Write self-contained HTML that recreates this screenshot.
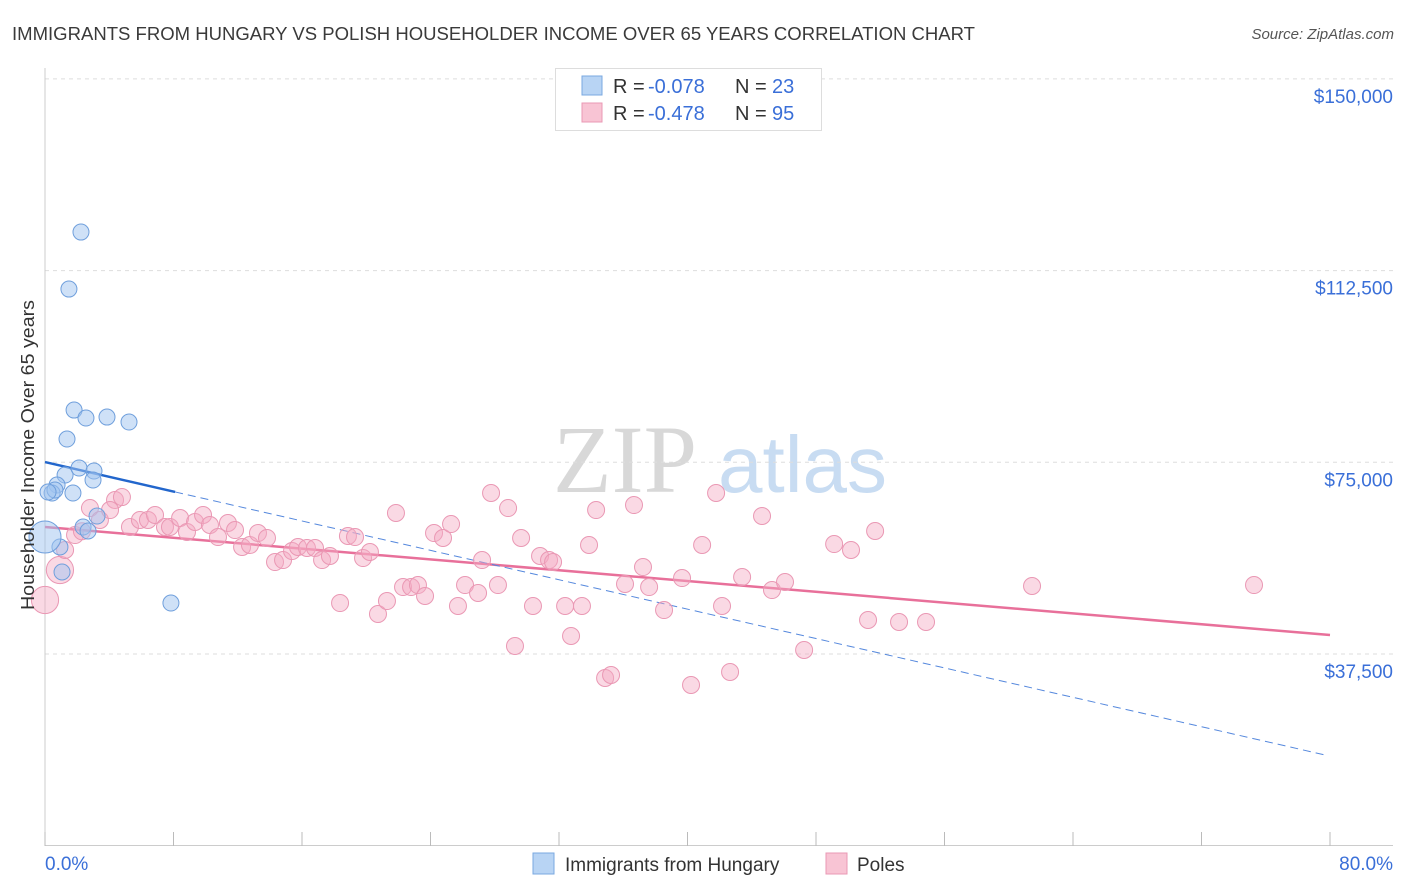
<!DOCTYPE html>
<html><head><meta charset="utf-8"><style>
body{margin:0;background:#fff;font-family:"Liberation Sans",sans-serif;}
svg{display:block}
</style></head><body>
<svg id="chart" width="1406" height="892" xmlns="http://www.w3.org/2000/svg">
<text x="12" y="40" font-size="18" fill="#3a3a3a" textLength="963" lengthAdjust="spacingAndGlyphs">IMMIGRANTS FROM HUNGARY VS POLISH HOUSEHOLDER INCOME OVER 65 YEARS CORRELATION CHART</text>
<text x="1394" y="39" font-size="15" fill="#555" font-style="italic" text-anchor="end">Source: ZipAtlas.com</text>
<g>
<text x="553" y="492" font-size="96" font-family="Liberation Serif,serif" fill="#d8d8d8">ZIP</text>
<text x="718" y="492" font-size="80" fill="#c8dcf2">atlas</text>
</g>
<g id="grid"></g>
<g id="axes"></g>
<g id="lines"></g>
<g id="pts"></g>
<text transform="translate(34,455) rotate(-90)" font-size="18" fill="#333" text-anchor="middle" textLength="310" lengthAdjust="spacingAndGlyphs">Householder Income Over 65 years</text>
<g>
<rect x="555.5" y="68.5" width="266" height="62" fill="#fff" stroke="#ddd"/>
<rect x="582" y="76" width="20" height="19" fill="#b8d4f4" stroke="#7aa8e0"/>
<rect x="582" y="103" width="20" height="19" fill="#f8c4d4" stroke="#ea98b4"/>
<g font-size="20" fill="#333">
<text x="613" y="93">R =</text><text x="648" y="93" fill="#3a6fd8">-0.078</text><text x="735" y="93">N =</text><text x="772" y="93" fill="#3a6fd8">23</text>
<text x="613" y="120">R =</text><text x="648" y="120" fill="#3a6fd8">-0.478</text><text x="735" y="120">N =</text><text x="772" y="120" fill="#3a6fd8">95</text>
</g>
</g>
<g>
<rect x="533" y="853" width="21" height="21" fill="#b8d4f4" stroke="#7aa8e0"/>
<text x="565" y="871" font-size="19" fill="#333">Immigrants from Hungary</text>
<rect x="826" y="853" width="21" height="21" fill="#f8c4d4" stroke="#ea98b4"/>
<text x="857" y="871" font-size="19" fill="#333">Poles</text>
</g>
</svg>
<script>
const yTicks=[37500,75000,112500,150000];
const yTickLabels=["$37,500","$75,000","$112,500","$150,000"];
const xTickLabels=["0.0%","80.0%"];
const blueX=[2.24,1.49,1.81,2.55,3.86,5.23,1.37,1.25,2.12,3.05,2.99,0.75,0.44,1.74,3.24,2.37,2.68,0.93,1.06,7.84,0,0.62,0.19];
const blueY=[120040,108890,85220,83660,83850,82880,79550,72510,73880,73290,71530,70550,68990,68990,64490,62340,61560,58430,53540,47470,60380,69570,69180];
const blueSize=[1,1,1,1,1,1,1,1,1,1,1,1,1,1,1,1,1,1,1,1,2,1,1];
const pinkX=[0,0.93,1.25,1.87,2.8,3.42,4.36,4.79,4.05,5.29,5.91,6.41,6.85,7.47,7.78,8.41,8.84,9.34,9.84,10.27,10.77,11.39,11.83,12.27,12.76,13.26,13.82,14.32,14.82,15.38,15.75,16.31,16.81,17.25,17.74,18.37,18.86,19.3,19.8,20.23,20.73,21.29,21.85,22.29,22.79,23.22,23.66,24.22,24.78,25.28,25.71,26.15,26.96,27.21,27.77,28.2,28.83,29.26,29.64,30.38,30.82,31.38,31.63,32.38,32.75,33.43,33.87,34.87,35.24,34.31,36.11,36.67,37.23,37.61,38.54,39.66,40.22,40.91,41.78,42.15,42.65,43.4,44.64,45.26,46.07,47.26,49.13,50.18,51.24,51.68,53.17,54.85,61.45,75.27,2.3];
const pinkY=[48060,53930,57840,60770,66050,63710,67620,68200,65660,62340,63710,63710,64690,62340,62340,64100,61360,63320,64690,62730,60380,63120,61750,58430,58820,61160,60190,55490,55880,57640,58430,58230,58230,55880,56670,47470,60580,60380,56270,57450,45320,47860,65080,50600,50600,50990,48840,61160,60190,62920,46890,50990,49430,55880,68990,50990,66050,39060,60190,46890,56670,55880,55490,46890,41020,46890,58820,32800,33390,65660,51190,66640,54510,50600,46100,52360,31430,58820,68990,46890,33980,52560,64490,50010,51580,38280,59010,57840,44150,61560,43760,43760,50800,50990,61500];
const pinkSize=[1.6,1.6,1,1,1,1,1,1,1,1,1,1,1,1,1,1,1,1,1,1,1,1,1,1,1,1,1,1,1,1,1,1,1,1,1,1,1,1,1,1,1,1,1,1,1,1,1,1,1,1,1,1,1,1,1,1,1,1,1,1,1,1,1,1,1,1,1,1,1,1,1,1,1,1,1,1,1,1,1,1,1,1,1,1,1,1,1,1,1,1,1,1,1,1,1];
const blueTrend=[[0,75050],[8.1,69200],[79.7,17740]];
const pinkTrend=[[0,62340],[80,41210]];
const NS="http://www.w3.org/2000/svg";
const X=v=>45+v/80*1285;
const Y=v=>845.7-v/37500*191.7;
function mk(tag,attrs,parent){const e=document.createElementNS(NS,tag);for(const k in attrs)e.setAttribute(k,attrs[k]);document.getElementById(parent).appendChild(e);return e;}
yTicks.forEach((t,i)=>{
 const g=mk('line',{x1:45,x2:1393,y1:Y(t),y2:Y(t),stroke:'#ddd','stroke-dasharray':'4,4'},'grid');
 
 
 const l=mk('text',{x:1393,y:Y(t)+24,'font-size':19,fill:'#3a6fd8','text-anchor':'end'},'axes');
 l.textContent=yTickLabels[i];
 
 
});
let a=mk('line',{x1:45,x2:45,y1:68,y2:846,stroke:'#ccc'},'axes');


a=mk('line',{x1:45,x2:1393,y1:845.5,y2:845.5,stroke:'#ccc'},'axes');


for(let i=0;i<=10;i++){const t=mk('line',{x1:X(i*8),x2:X(i*8),y1:832,y2:846,stroke:'#bbb'},'axes');
 
 }
[[0,'start',45],[1,'end',1393]].forEach(([i,an,x])=>{const t=mk('text',{x:x,y:870,'font-size':19,fill:'#3a6fd8','text-anchor':an},'axes');t.textContent=xTickLabels[i];
 
 });
pinkX.forEach((x,i)=>{const c=mk('circle',{cx:X(x),cy:Y(pinkY[i]),r:8.5*pinkSize[i],fill:'rgba(245,170,196,0.45)',stroke:'#ea98b4','stroke-width':1},'pts');
 
 });
blueX.forEach((x,i)=>{const c=mk('circle',{cx:X(x),cy:Y(blueY[i]),r:8*blueSize[i],fill:'rgba(160,196,240,0.5)',stroke:'#6f9fdc','stroke-width':1},'pts');
 
 });
let l=mk('line',{x1:X(pinkTrend[0][0]),y1:Y(pinkTrend[0][1]),x2:X(pinkTrend[1][0]),y2:Y(pinkTrend[1][1]),stroke:'#e8709a','stroke-width':2.5},'lines');


l=mk('line',{x1:X(blueTrend[0][0]),y1:Y(blueTrend[0][1]),x2:X(blueTrend[1][0]),y2:Y(blueTrend[1][1]),stroke:'#2266cc','stroke-width':2.5},'lines');


l=mk('line',{x1:X(blueTrend[1][0]),y1:Y(blueTrend[1][1]),x2:X(blueTrend[2][0]),y2:Y(blueTrend[2][1]),stroke:'#5588dd','stroke-width':1,'stroke-dasharray':'8,5'},'lines');


</script>
</body></html>
